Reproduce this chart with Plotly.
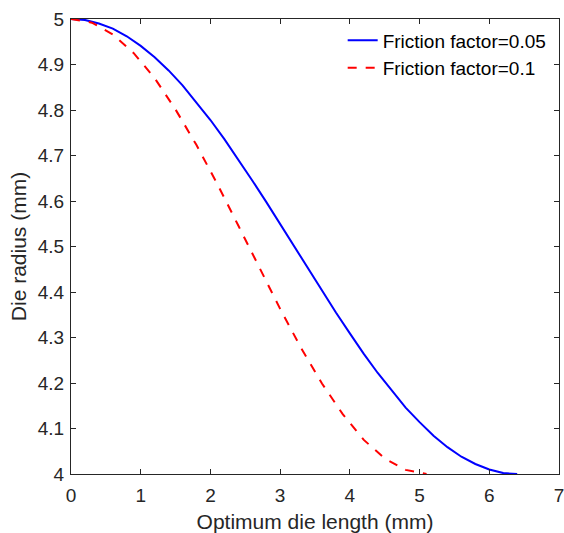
import plotly.graph_objects as go

x_f005 = [0, 0.2, 0.4, 0.6, 0.8, 1.0, 1.2, 1.4, 1.6, 1.8, 2.0, 2.2, 2.4, 2.6, 2.8, 3.0, 3.2,
          3.4, 3.6, 3.8, 4.0, 4.2, 4.4, 4.6, 4.8, 5.0, 5.2, 5.4, 5.6, 5.8, 6.0, 6.2, 6.4]
r_f005 = [5.000, 4.998, 4.990, 4.979, 4.962, 4.941, 4.916, 4.887, 4.854, 4.817, 4.778, 4.736,
          4.691, 4.645, 4.598, 4.549, 4.500, 4.451, 4.402, 4.355, 4.309, 4.264, 4.222, 4.183,
          4.146, 4.114, 4.084, 4.059, 4.038, 4.022, 4.010, 4.002, 4.000]

x_f01 = [0, 0.3, 0.6, 0.9, 1.2, 1.5, 1.8, 2.1, 2.4, 2.7, 3.0, 3.3, 3.6, 3.9, 4.2, 4.5, 4.8, 5.1]
r_f01 = [5.000, 4.992, 4.966, 4.925, 4.870, 4.801, 4.723, 4.637, 4.546, 4.454, 4.363, 4.277,
         4.199, 4.131, 4.075, 4.034, 4.009, 4.000]

x_ticks = [0, 1, 2, 3, 4, 5, 6, 7]
y_ticks = [4, 4.1, 4.2, 4.3, 4.4, 4.5, 4.6, 4.7, 4.8, 4.9, 5]
y_labels = ["4", "4.1", "4.2", "4.3", "4.4", "4.5", "4.6", "4.7", "4.8", "4.9", "5"]

font_family = "Liberation Sans, Arial, sans-serif"
axis_color = "#262626"

fig = go.Figure()
fig.add_trace(go.Scatter(x=x_f005, y=r_f005, mode="lines", name="Friction factor=0.05",
                         line=dict(color="#0000ff", width=2)))
fig.add_trace(go.Scatter(x=x_f01, y=r_f01, mode="lines", name="Friction factor=0.1",
                         line=dict(color="#ff0000", width=2, dash="dash")))

axis_common = dict(showgrid=False, zeroline=False, showline=True, linecolor=axis_color,
                   linewidth=1, mirror="allticks", ticks="inside", ticklen=5,
                   tickcolor=axis_color, ticklabeloverflow="allow",
                   tickfont=dict(family=font_family, size=19, color=axis_color))

fig.update_xaxes(range=[0, 7], tickvals=x_ticks, ticktext=[str(v) for v in x_ticks],
                 ticklabelstandoff=4,
                 title=dict(text="Optimum die length (mm)", font=dict(family=font_family, size=21, color=axis_color), standoff=9),
                 **axis_common)
fig.update_yaxes(range=[4, 5], tickvals=y_ticks, ticktext=y_labels,
                 ticklabelstandoff=2,
                 title=dict(text="Die radius (mm)", font=dict(family=font_family, size=21, color=axis_color), standoff=5),
                 **axis_common)

fig.update_layout(
    width=564, height=533,
    margin=dict(l=71, r=0, t=19, b=59),
    plot_bgcolor="white", paper_bgcolor="white",
    font=dict(family=font_family, color=axis_color),
    legend=dict(x=0.985, y=0.995, xanchor="right", yanchor="top",
                bgcolor="rgba(255,255,255,0)", borderwidth=0,
                font=dict(family=font_family, size=19, color="#000000"),
                tracegroupgap=0, itemwidth=30),
    showlegend=True,
)

fig.write_html("out.html")
